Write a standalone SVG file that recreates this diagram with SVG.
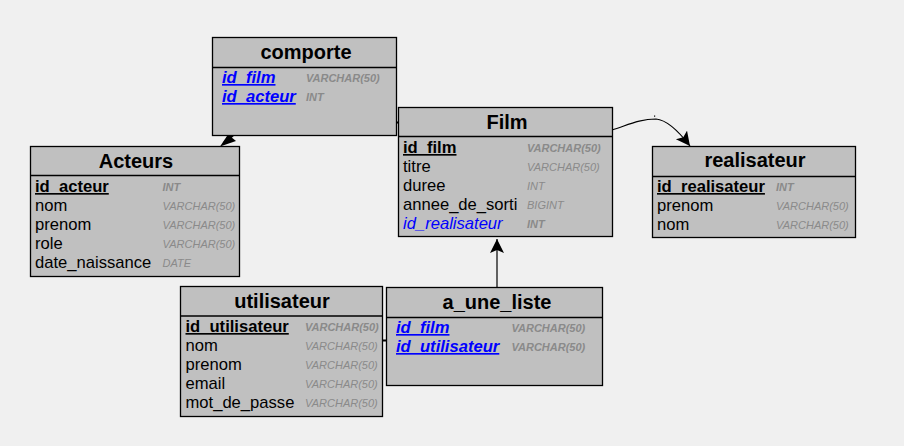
<svg xmlns="http://www.w3.org/2000/svg" width="904" height="446" viewBox="0 0 904 446">
<defs>
<style>
.box{fill:#c0c0c0;stroke:#000;stroke-width:1.3}
.sep{stroke:#000;stroke-width:1.3}
.title{font-family:"Liberation Sans",Arial,sans-serif;font-size:20px;font-weight:bold;fill:#000;text-anchor:middle}
.f{font-family:"Liberation Sans",Arial,sans-serif;font-size:16.6px;fill:#000}
.pk{font-weight:bold;text-decoration:underline}
.fk{fill:#0000ff;font-style:italic}
.t{font-family:"Liberation Sans",Arial,sans-serif;font-size:11px;font-style:italic;fill:#8a8a8a}
.tk{font-weight:bold}
.conn{fill:none;stroke:#000;stroke-width:1.2}
</style>
<marker id="arr" markerWidth="16" markerHeight="16" refX="14" refY="7" orient="auto" markerUnits="userSpaceOnUse">
<path d="M0,0 L14,7 L0,14 L3,7 Z" fill="#000"/>
</marker>
</defs>
<rect width="904" height="446" fill="#f0f0f0"/>

<g id="connectors">
<path class="conn" d="M612,130 C628,125 640,119 656,119 C668,120 680,133 690,146" marker-end="url(#arr)"/>
<rect x="654" y="115.5" width="1.2" height="1.2" fill="#000"/>
<path class="conn" d="M497,288 L497,239" marker-end="url(#arr)"/>
<path d="M233,135 L224,143" stroke="#000" stroke-width="2.5"/>
<polygon points="220,146.5 228,134.5 236,141" fill="#000"/>
<path d="M396,122.5 L399,122.5" stroke="#000" stroke-width="2"/>
<path d="M382,340.5 L387,340.5" stroke="#000" stroke-width="2"/>
</g>

<g id="comporte">
<rect class="box" x="212.5" y="37.5" width="184" height="98"/>
<line class="sep" x1="212.5" y1="67.5" x2="396.5" y2="67.5"/>
<text class="title" x="306" y="59">comporte</text>
<text class="f pk fk" x="222" y="83">id_film</text>
<text class="t tk" x="306" y="82">VARCHAR(50)</text>
<text class="f pk fk" x="222" y="102">id_acteur</text>
<text class="t tk" x="306" y="101">INT</text>
</g>

<g id="Acteurs">
<rect class="box" x="30.5" y="146.5" width="209" height="130"/>
<line class="sep" x1="30.5" y1="175.5" x2="239.5" y2="175.5"/>
<text class="title" x="136" y="168">Acteurs</text>
<text class="f pk" x="35" y="192">id_acteur</text>
<text class="t tk" x="162.5" y="191">INT</text>
<text class="f" x="35" y="211">nom</text>
<text class="t" x="162.5" y="210">VARCHAR(50)</text>
<text class="f" x="35" y="230">prenom</text>
<text class="t" x="162.5" y="229">VARCHAR(50)</text>
<text class="f" x="35" y="249">role</text>
<text class="t" x="162.5" y="248">VARCHAR(50)</text>
<text class="f" x="35" y="268">date_naissance</text>
<text class="t" x="162.5" y="267">DATE</text>
</g>

<g id="Film">
<rect class="box" x="398.5" y="107.5" width="214" height="129"/>
<line class="sep" x1="398.5" y1="136.5" x2="612.5" y2="136.5"/>
<text class="title" x="507" y="129">Film</text>
<text class="f pk" x="403" y="153">id_film</text>
<text class="t tk" x="527" y="152">VARCHAR(50)</text>
<text class="f" x="403" y="172">titre</text>
<text class="t" x="527" y="171">VARCHAR(50)</text>
<text class="f" x="403" y="191">duree</text>
<text class="t" x="527" y="190">INT</text>
<text class="f" x="403" y="210">annee_de_sorti</text>
<text class="t" x="527" y="209">BIGINT</text>
<text class="f fk" x="403" y="229">id_realisateur</text>
<text class="t tk" x="527" y="228">INT</text>
</g>

<g id="realisateur">
<rect class="box" x="652.5" y="146.5" width="203" height="91"/>
<line class="sep" x1="652.5" y1="176.5" x2="855.5" y2="176.5"/>
<text class="title" x="755" y="167">realisateur</text>
<text class="f pk" x="657" y="192">id_realisateur</text>
<text class="t tk" x="776" y="191">INT</text>
<text class="f" x="657" y="211">prenom</text>
<text class="t" x="776" y="210">VARCHAR(50)</text>
<text class="f" x="657" y="230">nom</text>
<text class="t" x="776" y="229">VARCHAR(50)</text>
</g>

<g id="utilisateur">
<rect class="box" x="180.5" y="286.5" width="202" height="130"/>
<line class="sep" x1="180.5" y1="316" x2="382.5" y2="316"/>
<text class="title" x="282" y="308">utilisateur</text>
<text class="f pk" x="185.5" y="332">id_utilisateur</text>
<text class="t tk" x="305" y="331">VARCHAR(50)</text>
<text class="f" x="185.5" y="351">nom</text>
<text class="t" x="305" y="350">VARCHAR(50)</text>
<text class="f" x="185.5" y="370">prenom</text>
<text class="t" x="305" y="369">VARCHAR(50)</text>
<text class="f" x="185.5" y="389">email</text>
<text class="t" x="305" y="388">VARCHAR(50)</text>
<text class="f" x="185.5" y="408">mot_de_passe</text>
<text class="t" x="305" y="407">VARCHAR(50)</text>
</g>

<g id="a_une_liste">
<rect class="box" x="386.5" y="287.5" width="216" height="98"/>
<line class="sep" x1="386.5" y1="317.5" x2="602.5" y2="317.5"/>
<text class="title" x="497" y="309">a_une_liste</text>
<text class="f pk fk" x="396" y="333">id_film</text>
<text class="t tk" x="511.5" y="332">VARCHAR(50)</text>
<text class="f pk fk" x="396" y="352">id_utilisateur</text>
<text class="t tk" x="511.5" y="351">VARCHAR(50)</text>
</g>
</svg>
